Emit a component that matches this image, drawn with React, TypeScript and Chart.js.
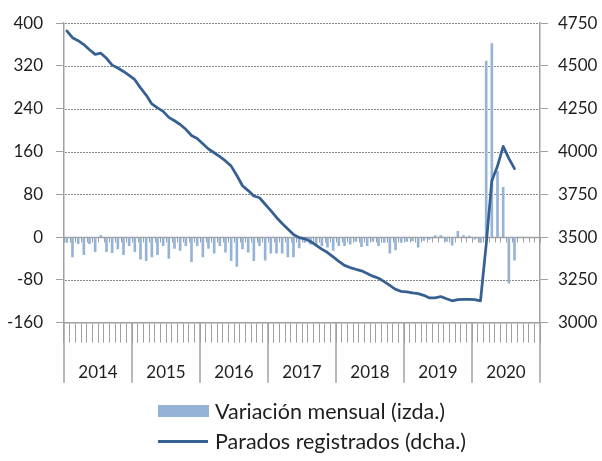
import React, { useEffect, useRef } from 'react';
import { Chart, registerables } from 'chart.js';

Chart.register(...registerables);

// ---- Data (thousands) ----
const years = ['2014', '2015', '2016', '2017', '2018', '2019', '2020'];
const monthNames = ['ene', 'feb', 'mar', 'abr', 'may', 'jun', 'jul', 'ago', 'sep', 'oct', 'nov', 'dic'];

// Monthly change (left axis)
const variacionMensual = [
  // 2014
  -10, -37, -12, -33, -12, -27, 3, -27, -29, -22, -33, -16,
  // 2015
  -27, -41, -44, -37, -33, -16, -40, -21, -25, -16, -46, -16,
  // 2016
  -37, -21, -30, -16, -28, -44, -55, -22, -28, -44, -16, -43,
  // 2017
  -30, -30, -30, -37, -37, -20, -10, -13, -16, -16, -19, -25,
  // 2018
  -16, -16, -13, -8, -18, -16, -8, -16, -10, -30, -24, -10,
  // 2019
  -8, -7, -19, -6, -4, 3, 3, -8, -15, 11, 3, 2,
  // 2020
  -4, -10, 329, 362, 123, 93, -86, -43,
];

// Registered unemployed (right axis)
const paradosRegistrados = [
  // 2014
  4705, 4665, 4648, 4625, 4595, 4568, 4575, 4545, 4505, 4488, 4468, 4445,
  // 2015
  4420, 4372, 4330, 4278, 4255, 4235, 4200, 4180, 4158, 4130, 4094, 4076,
  // 2016
  4045, 4015, 3993, 3970, 3945, 3915, 3860, 3800, 3772, 3740, 3730, 3692,
  // 2017
  3655, 3615, 3580, 3548, 3515, 3497, 3490, 3475, 3452, 3430, 3410, 3385,
  // 2018
  3358, 3335, 3322, 3312, 3303, 3288, 3272, 3260, 3240, 3218, 3195, 3183,
  // 2019
  3180, 3174, 3170, 3160, 3145, 3145, 3153, 3140, 3128, 3135, 3137, 3136,
  // 2020
  3135, 3128, 3455, 3830, 3915, 4030, 3960, 3900,
];

const leftTicks = [-160, -80, 0, 80, 160, 240, 320, 400];
const rightAxis = { min: 3000, max: 4750, step: 250 };

const months = years.flatMap((y) => monthNames.map((m) => `${m} ${y}`));

const AXIS_GRAY = '#a0a0a0';
const GRID_GRAY = '#8a8a8a';
const TEXT = '#1e1e1e';
const BAR_COLOR = '#95b3d7';
const LINE_COLOR = '#376092';
const FONT = 'Lato';

const axisDecor = {
  id: 'axisDecor',
  beforeDatasetsDraw(chart: any) {
    const { ctx, chartArea: ca, scales } = chart;
    const yScale = scales.y;
    const n = months.length;
    const w = (ca.right - ca.left) / n;
    const y0 = Math.round(yScale.getPixelForValue(0)) + 0.5;

    ctx.save();
    // dotted gridlines (short horizontal segments) at the left scale's tick values
    ctx.strokeStyle = GRID_GRAY;
    ctx.lineWidth = 1;
    ctx.beginPath();
    for (let k = 1; k < leftTicks.length; k++) {
      const v = leftTicks[k];
      if (v === 0) continue;
      const y = Math.round(yScale.getPixelForValue(v)) + 0.5;
      for (let x = ca.left + 1; x < ca.right - 1; x += 3) {
        ctx.moveTo(x, y);
        ctx.lineTo(x + 2, y);
      }
    }
    ctx.stroke();

    // zero line with small ticks
    ctx.strokeStyle = AXIS_GRAY;
    ctx.lineWidth = 1.5;
    ctx.beginPath();
    ctx.moveTo(ca.left, y0);
    ctx.lineTo(ca.right, y0);
    ctx.stroke();
    ctx.lineWidth = 1;
    ctx.beginPath();
    for (let j = 0; j <= n; j++) {
      const x = Math.round(ca.left + j * w) + 0.5;
      ctx.moveTo(x, y0);
      ctx.lineTo(x, y0 + 5);
    }
    ctx.stroke();
    ctx.restore();
  },
  afterDraw(chart: any) {
    const { ctx, chartArea: ca } = chart;
    const n = months.length;
    const w = (ca.right - ca.left) / n;
    ctx.save();
    ctx.strokeStyle = AXIS_GRAY;
    ctx.lineWidth = 1.5;
    ctx.beginPath();
    for (let k = 0; k <= years.length; k++) {
      const x = Math.round(ca.left + k * 12 * w);
      ctx.moveTo(x, ca.bottom);
      ctx.lineTo(x, ca.bottom + 60);
    }
    ctx.stroke();
    ctx.restore();
  },
};

export default function App() {
  const canvasRef = useRef<HTMLCanvasElement | null>(null);

  useEffect(() => {
    if (!canvasRef.current) return;
    const monthW = (540 - 64) / months.length;
    const chart = new Chart(canvasRef.current, {
      type: 'bar',
      data: {
        labels: months,
        datasets: [
          {
            type: 'line',
            label: 'Parados registrados (dcha.)',
            data: paradosRegistrados,
            yAxisID: 'y1',
            borderColor: LINE_COLOR,
            borderWidth: 2.75,
            pointRadius: 0,
            tension: 0,
            borderJoinStyle: 'round',
            borderCapStyle: 'round',
            order: 0,
          } as any,
          {
            type: 'bar',
            label: 'Variación mensual (izda.)',
            data: variacionMensual,
            yAxisID: 'y',
            backgroundColor: BAR_COLOR,
            barThickness: 2,
            order: 1,
          },
        ],
      },
      options: {
        animation: false,
        responsive: false,
        devicePixelRatio: 1,
        layout: { padding: { top: 14, left: 0, right: 0, bottom: 461 - 322.7 - 70 } },
        plugins: {
          legend: { display: false },
          tooltip: { enabled: false },
        },
        scales: {
          x: {
            type: 'category',
            offset: true,
            grid: {
              offset: true,
              drawOnChartArea: false,
              drawTicks: true,
              tickLength: 20,
              color: AXIS_GRAY,
              tickColor: AXIS_GRAY,
              lineWidth: 1,
            },
            border: { display: true, color: AXIS_GRAY, width: 1.5 },
            ticks: {
              autoSkip: false,
              maxRotation: 0,
              minRotation: 0,
              padding: 20,
              labelOffset: -monthW / 2,
              color: TEXT,
              font: { family: FONT, size: 17 },
              callback: (_v: any, idx: number) => (idx % 12 === 6 ? years[Math.floor(idx / 12)] : ''),
            },
            afterFit: (s: any) => {
              s.height = 70;
            },
          },
          y: {
            position: 'left',
            min: leftTicks[0],
            max: leftTicks[leftTicks.length - 1],
            grid: {
              drawOnChartArea: false,
              drawTicks: true,
              tickLength: 8,
              tickColor: AXIS_GRAY,
              color: AXIS_GRAY,
            },
            border: { display: true, color: AXIS_GRAY, width: 1.5 },
            ticks: {
              stepSize: leftTicks[1] - leftTicks[0],
              padding: 13,
              color: TEXT,
              font: { family: FONT, size: 17 },
              callback: (v: any) => String(v),
            },
            afterFit: (s: any) => {
              s.width = 64;
            },
          },
          y1: {
            position: 'right',
            min: rightAxis.min,
            max: rightAxis.max,
            grid: {
              drawOnChartArea: false,
              drawTicks: true,
              tickLength: 8,
              tickColor: AXIS_GRAY,
              color: AXIS_GRAY,
            },
            border: { display: true, color: AXIS_GRAY, width: 1.5 },
            ticks: {
              stepSize: rightAxis.step,
              padding: 10,
              color: TEXT,
              font: { family: FONT, size: 17 },
              callback: (v: any) => String(v),
            },
            afterFit: (s: any) => {
              s.width = 62;
            },
          },
        },
      } as any,
      plugins: [axisDecor],
    });
    return () => chart.destroy();
  }, []);

  const legendText: React.CSSProperties = {
    position: 'absolute',
    left: 215,
    fontFamily: FONT,
    fontSize: 21.5,
    color: TEXT,
    lineHeight: '24px',
    whiteSpace: 'nowrap',
  };

  return (
    <div style={{ position: 'fixed', left: 0, top: 0, width: 602, height: 461, background: '#fff' }}>
      <canvas ref={canvasRef} width={602} height={461} style={{ position: 'absolute', left: 0, top: 0 }} />
      <div style={{ position: 'absolute', left: 158, top: 405, width: 51, height: 12, background: BAR_COLOR }} />
      <div style={{ ...legendText, top: 399 }}>Variación mensual (izda.)</div>
      <div style={{ position: 'absolute', left: 158, top: 440, width: 50, height: 2.5, background: LINE_COLOR }} />
      <div style={{ ...legendText, top: 429 }}>Parados registrados (dcha.)</div>
    </div>
  );
}
